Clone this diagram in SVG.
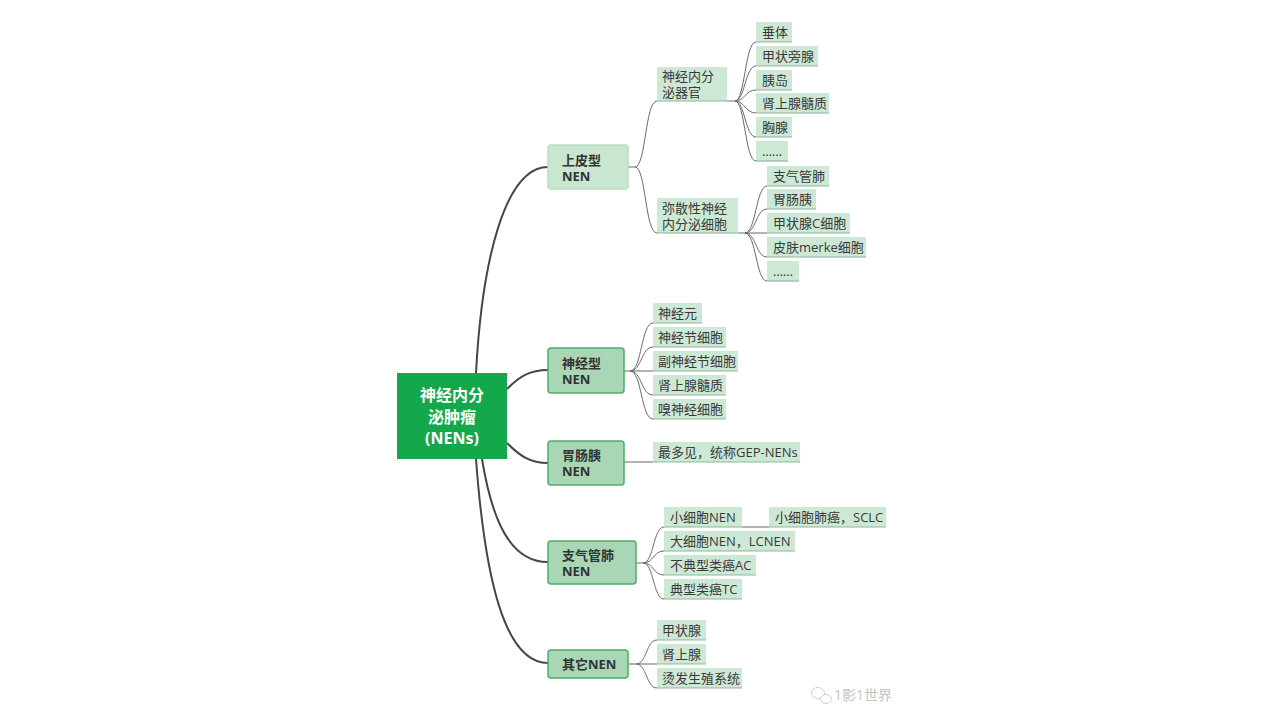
<svg xmlns="http://www.w3.org/2000/svg" width="1280" height="720" viewBox="0 0 1280 720">
<style>
text{font-family:"Open Sans","Noto Sans CJK SC",sans-serif;font-size:13px;fill:#3a3a3a}
.root{fill:#12A84B}
.rt{fill:#fff;font-weight:bold;font-size:16px}
.main{fill:#A9D7B6;stroke:#4CAF6C;stroke-width:1.5}
.main1{fill:#C9E6D1;stroke:#B9DEC5;stroke-width:1.5}
.mt{font-weight:bold;font-size:13px;fill:#333}
.leaf{fill:#CDE8D5}
.ul{stroke:#8FB89C;stroke-width:1.2;fill:none}
.thick{stroke:#464646;stroke-width:2;fill:none}
.thin{stroke:#6a6a6a;stroke-width:1;fill:none}
.wm{fill:#c4c4c4;font-size:14px}
</style>
<rect width="1280" height="720" fill="#fff"/>
<g id="connectors">
<path class="thick" d="M476,373 C482,260 505,167 548,167"/>
<path class="thick" d="M507,389 C520,376 530,370 548,370"/>
<path class="thick" d="M507,443 C520,456 530,463 548,463"/>
<path class="thick" d="M482,459 C492,520 510,562 548,562"/>
<path class="thick" d="M476,459 C485,580 505,663 548,663"/>
<path class="thin" d="M628,167 L635,167 C646,167 645,101 657,101"/>
<path class="thin" d="M635,167 C646,167 645,233 657,233"/>
<path class="thin" d="M727,101 L735,101"/>
<path class="thin" d="M735,101 C745,101 745,42 756,42"/>
<path class="thin" d="M735,101 C745,101 745,66 756,66"/>
<path class="thin" d="M735,101 C745,101 745,90 756,90"/>
<path class="thin" d="M735,101 C745,101 745,113 756,113"/>
<path class="thin" d="M735,101 C745,101 745,137 756,137"/>
<path class="thin" d="M735,101 C745,101 745,161 756,161"/>
<path class="thin" d="M738,233 L745,233"/>
<path class="thin" d="M745,233 C756,233 756,186 767,186"/>
<path class="thin" d="M745,233 C756,233 756,209 767,209"/>
<path class="thin" d="M745,233 L767,233"/>
<path class="thin" d="M745,233 C756,233 756,257 767,257"/>
<path class="thin" d="M745,233 C756,233 756,281 767,281"/>
<path class="thin" d="M624,371 L630,371"/>
<path class="thin" d="M630,371 C642,371 641,323 653,323"/>
<path class="thin" d="M630,371 C642,371 641,347 653,347"/>
<path class="thin" d="M630,371 L653,371"/>
<path class="thin" d="M630,371 C642,371 641,395 653,395"/>
<path class="thin" d="M630,371 C642,371 641,419 653,419"/>
<path class="thin" d="M624,462 L653,462"/>
<path class="thin" d="M636,563 L643,563"/>
<path class="thin" d="M643,563 C654,563 653,527 664,527"/>
<path class="thin" d="M643,563 C654,563 653,551 664,551"/>
<path class="thin" d="M643,563 C654,563 653,575 664,575"/>
<path class="thin" d="M643,563 C654,563 653,599 664,599"/>
<path class="thin" d="M742,527 L769,527"/>
<path class="thin" d="M628,664 L636,664"/>
<path class="thin" d="M636,664 C647,664 646,640 657,640"/>
<path class="thin" d="M636,664 L657,664"/>
<path class="thin" d="M636,664 C647,664 646,688 657,688"/>
</g>
<g id="root">
<rect class="root" x="397" y="373" width="110" height="86"/>
<text class="rt" x="452" y="401" text-anchor="middle">神经内分</text>
<text class="rt" x="452" y="423" text-anchor="middle">泌肿瘤</text>
<text class="rt" x="452" y="444" text-anchor="middle">(NENs)</text>
</g>
<g id="n-epi">
<rect class="main1" x="548" y="145" width="80" height="44" rx="3"/>
<text class="mt" x="562" y="165">上皮型</text>
<text class="mt" x="562" y="181">NEN</text>
</g>
<g id="n-neuro">
<rect class="main" x="548" y="348" width="76" height="45" rx="3"/>
<text class="mt" x="562" y="368">神经型</text>
<text class="mt" x="562" y="384">NEN</text>
</g>
<g id="n-gep">
<rect class="main" x="548" y="441" width="76" height="44" rx="3"/>
<text class="mt" x="562" y="460">胃肠胰</text>
<text class="mt" x="562" y="476">NEN</text>
</g>
<g id="n-lung">
<rect class="main" x="548" y="541" width="88" height="43" rx="3"/>
<text class="mt" x="562" y="560">支气管肺</text>
<text class="mt" x="562" y="576">NEN</text>
</g>
<g id="n-other">
<rect class="main" x="548" y="650" width="80" height="28" rx="3"/>
<text class="mt" x="562" y="669">其它NEN</text>
</g>
<g id="n-organ">
<rect class="leaf" x="657" y="67" width="70" height="34"/>
<path class="ul" d="M657,101 H727"/>
<text x="662" y="81">神经内分</text>
<text x="662" y="97">泌器官</text>
</g>
<g id="n-diffuse">
<rect class="leaf" x="657" y="198" width="81" height="35"/>
<path class="ul" d="M657,233 H738"/>
<text x="662" y="213">弥散性神经</text>
<text x="662" y="229">内分泌细胞</text>
</g>
<g id="l-1"><rect class="leaf" x="756" y="22" width="36" height="20"/><path class="ul" d="M756,42 H792"/><text x="762" y="37">垂体</text></g>
<g id="l-2"><rect class="leaf" x="756" y="46" width="62" height="20"/><path class="ul" d="M756,66 H818"/><text x="762" y="61">甲状旁腺</text></g>
<g id="l-3"><rect class="leaf" x="756" y="70" width="36" height="20"/><path class="ul" d="M756,90 H792"/><text x="762" y="85">胰岛</text></g>
<g id="l-4"><rect class="leaf" x="756" y="93" width="73" height="20"/><path class="ul" d="M756,113 H829"/><text x="762" y="108">肾上腺髓质</text></g>
<g id="l-5"><rect class="leaf" x="756" y="117" width="36" height="20"/><path class="ul" d="M756,137 H792"/><text x="762" y="132">胸腺</text></g>
<g id="l-6"><rect class="leaf" x="756" y="141" width="32" height="20"/><path class="ul" d="M756,161 H788"/><text x="762" y="156">……</text></g>
<g id="l-7"><rect class="leaf" x="767" y="166" width="62" height="20"/><path class="ul" d="M767,186 H829"/><text x="773" y="181">支气管肺</text></g>
<g id="l-8"><rect class="leaf" x="767" y="189" width="49" height="20"/><path class="ul" d="M767,209 H816"/><text x="773" y="204">胃肠胰</text></g>
<g id="l-9"><rect class="leaf" x="767" y="213" width="83" height="20"/><path class="ul" d="M767,233 H850"/><text x="773" y="228">甲状腺C细胞</text></g>
<g id="l-10"><rect class="leaf" x="767" y="237" width="99" height="20"/><path class="ul" d="M767,257 H866"/><text x="773" y="252">皮肤merke细胞</text></g>
<g id="l-11"><rect class="leaf" x="767" y="261" width="32" height="20"/><path class="ul" d="M767,281 H799"/><text x="773" y="276">……</text></g>
<g id="l-12"><rect class="leaf" x="653" y="303" width="49" height="20"/><path class="ul" d="M653,323 H702"/><text x="658" y="318">神经元</text></g>
<g id="l-13"><rect class="leaf" x="653" y="327" width="73" height="20"/><path class="ul" d="M653,347 H726"/><text x="658" y="342">神经节细胞</text></g>
<g id="l-14"><rect class="leaf" x="653" y="351" width="85" height="20"/><path class="ul" d="M653,371 H738"/><text x="658" y="366">副神经节细胞</text></g>
<g id="l-15"><rect class="leaf" x="653" y="375" width="73" height="20"/><path class="ul" d="M653,395 H726"/><text x="658" y="390">肾上腺髓质</text></g>
<g id="l-16"><rect class="leaf" x="653" y="399" width="73" height="20"/><path class="ul" d="M653,419 H726"/><text x="658" y="414">嗅神经细胞</text></g>
<g id="l-17"><rect class="leaf" x="653" y="442" width="147" height="20"/><path class="ul" d="M653,462 H800"/><text x="658" y="457">最多见，统称GEP-NENs</text></g>
<g id="l-18"><rect class="leaf" x="664" y="507" width="78" height="20"/><path class="ul" d="M664,527 H742"/><text x="670" y="522">小细胞NEN</text></g>
<g id="l-19"><rect class="leaf" x="769" y="507" width="117" height="20"/><path class="ul" d="M769,527 H886"/><text x="775" y="522">小细胞肺癌，SCLC</text></g>
<g id="l-20"><rect class="leaf" x="664" y="531" width="131" height="20"/><path class="ul" d="M664,551 H795"/><text x="670" y="546">大细胞NEN，LCNEN</text></g>
<g id="l-21"><rect class="leaf" x="664" y="555" width="92" height="20"/><path class="ul" d="M664,575 H756"/><text x="670" y="570">不典型类癌AC</text></g>
<g id="l-22"><rect class="leaf" x="664" y="579" width="78" height="20"/><path class="ul" d="M664,599 H742"/><text x="670" y="594">典型类癌TC</text></g>
<g id="l-23"><rect class="leaf" x="657" y="620" width="49" height="20"/><path class="ul" d="M657,640 H706"/><text x="662" y="635">甲状腺</text></g>
<g id="l-24"><rect class="leaf" x="657" y="644" width="49" height="20"/><path class="ul" d="M657,664 H706"/><text x="662" y="659">肾上腺</text></g>
<g id="l-25"><rect class="leaf" x="657" y="668" width="85" height="20"/><path class="ul" d="M657,688 H742"/><text x="662" y="683">烫发生殖系统</text></g>
<g id="watermark">
<ellipse cx="818" cy="693" rx="6.5" ry="5.5" fill="none" stroke="#cfcfcf" stroke-width="1"/>
<ellipse cx="826" cy="699" rx="5.5" ry="4.5" fill="#fff" stroke="#cfcfcf" stroke-width="1"/>
<text class="wm" x="834" y="700">1影1世界</text>
</g>
</svg>
